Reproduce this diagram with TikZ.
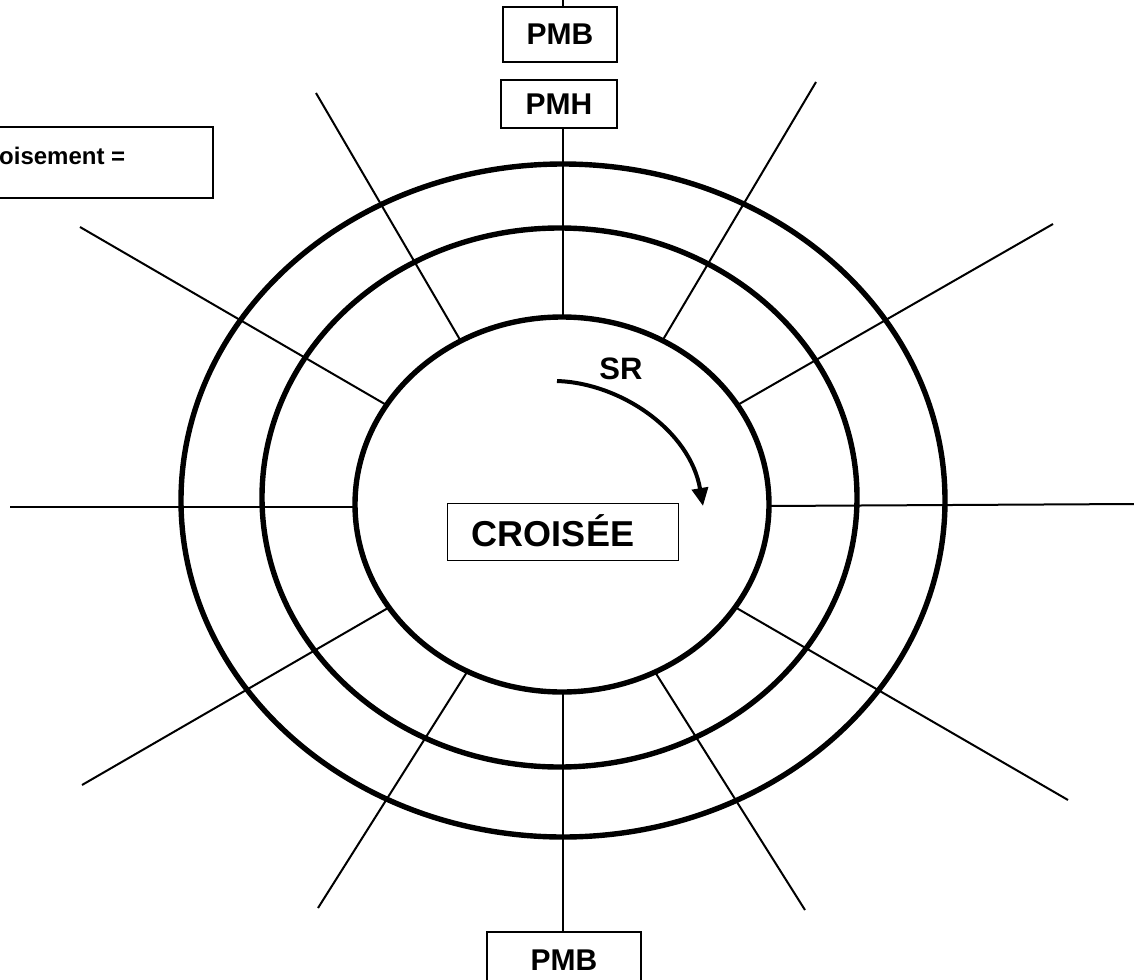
\documentclass[tikz,border=0pt]{standalone}
\usepackage{fontspec}
\setmainfont{Liberation Sans}
\usetikzlibrary{shapes.geometric,arrows.meta,calc}
\tikzset{
  ring/.style={ellipse, draw, line width=5.4pt, inner sep=0pt, outer sep=0pt},
  radial/.style={line width=2pt},
  boxed/.style={draw, line width=1.8pt, inner sep=0pt, outer sep=0pt, font=\bfseries\fontsize{30}{34}\selectfont},
  lbl/.style={inner sep=0pt, font=\bfseries\fontsize{30}{34}\selectfont},
}
\begin{document}
\begin{tikzpicture}[x=1pt,y=-1pt]
\useasboundingbox (0,0) rectangle (1134,979);
\clip (0,0) rectangle (1134,979);
\fill[white] (0,0) rectangle (1134,979);
% boxes
\node[boxed, minimum width=114pt, minimum height=55pt] (pmbtop) at (560,34.5) {PMB};
\node[boxed, minimum width=116pt, minimum height=48pt] (pmh) at (559,104) {PMH};
\node[boxed, minimum width=154pt, minimum height=56pt] (pmbbot) at (564,960) {PMB};
\coordinate (tick) at (563,0);
\draw[radial] (tick) -- (pmbtop.north -| tick);
% radial end points
\coordinate (o1) at (80,227);   \coordinate (i1) at (383,403);
\coordinate (o2) at (316,93);   \coordinate (i2) at (459,338);
\coordinate (o3) at (816,82);   \coordinate (i3) at (664,338);
\coordinate (o4) at (1053,224); \coordinate (i4) at (741,403);
\coordinate (o5) at (82,785);   \coordinate (i5) at (388,608);
\coordinate (o6) at (318,908);  \coordinate (i6) at (467,672);
\coordinate (o7) at (805,910);  \coordinate (i7) at (655,672);
\coordinate (o8) at (1068,800); \coordinate (i8) at (740,610);
\coordinate (o9) at (10,507);   \coordinate (i9) at (355,507);
\coordinate (o10) at (1134,504);\coordinate (i10) at (769,506);
\coordinate (i11) at (563,317);
\coordinate (i12) at (563,692);
\foreach \k in {1,...,10}{
  \draw[radial] (o\k) -- ($(o\k)!1.08!(i\k)$);
}
\draw[radial] (pmh.south -| i11) -- ($(i11)+(0,20)$);
\draw[radial] (pmbbot.north -| i12) -- ($(i12)+(0,-20)$);
% rings
\node[ring, fill=white, minimum width=414pt, minimum height=375pt] (inner) at (562,504.5) {};
\node[ring, minimum width=595pt, minimum height=539pt] (middle) at (559.5,497.5) {};
\node[ring, minimum width=764pt, minimum height=673pt] (outer) at (563,500.5) {};
% centre box
\node[draw, line width=1.8pt, minimum width=231pt, minimum height=57pt, inner sep=0pt] (croisbox) at (563,532) {};
\node[lbl, anchor=base, font=\bfseries\fontsize{36}{40}\selectfont] (croistext) at (553,546) {CROISÉE};
% SR arrow
\node[lbl, font=\bfseries\fontsize{31}{34}\selectfont] (sr) at (621,369) {SR};
\coordinate (arrstart) at (557,381);
\coordinate (arrtip) at (703,506);
\draw[line width=4pt, -{Triangle[length=18pt,width=16pt]}] (arrstart) .. controls (620,383) and (690,430) .. (arrtip);
% left box
\node[draw, line width=1.8pt, minimum width=220pt, minimum height=71pt, inner sep=0pt] (leftbox) at (103,162.5) {};
\node[lbl, anchor=base west, font=\bfseries\fontsize{24}{28}\selectfont] (lefttext) at (-1,164) {oisement =};
\end{tikzpicture}
\end{document}
